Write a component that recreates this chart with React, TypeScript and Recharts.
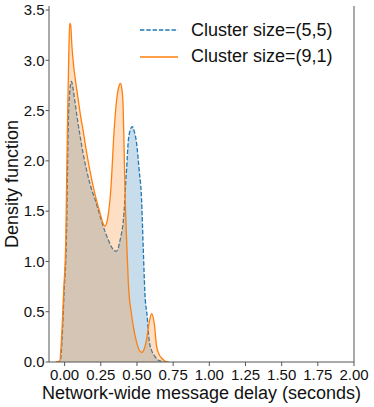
import * as React from 'react';
import { ComposedChart, Area, XAxis, YAxis, Legend, ReferenceLine } from 'recharts';

// KDE curves (x in seconds, y density)
const evenX = [-0.06, -0.034, -0.022, -0.006, 0.008, 0.019, 0.028, 0.035, 0.042, 0.05, 0.062, 0.075, 0.09, 0.11, 0.127, 0.15, 0.174, 0.2, 0.22, 0.245, 0.265, 0.278, 0.29, 0.3, 0.319, 0.342, 0.359, 0.375, 0.386, 0.395, 0.404, 0.41, 0.416, 0.43, 0.44, 0.446, 0.46, 0.474, 0.497, 0.515, 0.532, 0.55, 0.566, 0.584, 0.601, 0.619, 0.636, 0.655, 0.67, 0.693, 0.72];
const evenY = [0, 0.01, 0.22, 0.72, 1.21, 2.31, 3.0, 3.37, 3.35, 3.15, 2.95, 2.8, 2.65, 2.45, 2.31, 2.1, 1.91, 1.73, 1.61, 1.48, 1.38, 1.35, 1.38, 1.45, 1.71, 2.3, 2.6, 2.74, 2.77, 2.72, 2.55, 2.2, 1.78, 1.15, 0.8, 0.66, 0.5, 0.36, 0.2, 0.12, 0.095, 0.13, 0.22, 0.39, 0.48, 0.39, 0.155, 0.07, 0.04, 0.01, 0];

const splitX = [-0.06, -0.03, -0.018, -0.003, 0.012, 0.02, 0.026, 0.035, 0.047, 0.058, 0.07, 0.089, 0.11, 0.135, 0.162, 0.19, 0.21, 0.231, 0.26, 0.3, 0.33, 0.354, 0.37, 0.38, 0.393, 0.404, 0.416, 0.423, 0.428, 0.439, 0.45, 0.467, 0.48, 0.497, 0.515, 0.532, 0.543, 0.555, 0.571, 0.584, 0.6, 0.624, 0.645, 0.67, 0.7];
const splitY = [0, 0.01, 0.22, 0.72, 1.21, 1.9, 2.41, 2.68, 2.79, 2.72, 2.6, 2.41, 2.22, 2.02, 1.845, 1.7, 1.62, 1.52, 1.38, 1.22, 1.13, 1.1, 1.13, 1.19, 1.28, 1.38, 1.61, 1.81, 1.91, 2.18, 2.29, 2.34, 2.3, 2.18, 1.91, 1.61, 1.15, 0.68, 0.45, 0.22, 0.12, 0.056, 0.02, 0.006, 0];

const xTicks = [0, 0.25, 0.5, 0.75, 1, 1.25, 1.5, 1.75, 2];
const yTicks = [0, 0.5, 1, 1.5, 2, 2.5, 3, 3.5];

const seriesNames = ['Cluster size=(5,5)', 'Cluster size=(9,1)'];
const seriesColors = ['#1f77b4', '#ff7f0e'];

const font = '"Liberation Sans", Arial, sans-serif';
const axisColor = '#555';

const toRows = (xs: number[], ys: number[]) => xs.map((x, i) => ({ x, y: ys[i] }));

export default function App() {
    const splitData = toRows(splitX, splitY);
    const evenData = toRows(evenX, evenY);

    const renderLegend = () => (
        <div style={{ fontFamily: font, fontSize: 18, color: '#111' }}>
            {seriesNames.map((name, i) => (
                <div key={name} style={{ display: 'flex', alignItems: 'center', height: 26.7 }}>
                    <svg width={38} height={4} style={{ display: 'block' }}>
                        <line x1={0} y1={2} x2={38} y2={2} stroke={seriesColors[i]} strokeWidth={1.3}
                            strokeDasharray={i === 0 ? '4.4 1.9' : undefined} />
                    </svg>
                    <span style={{ marginLeft: 13, whiteSpace: 'nowrap' }}>{name}</span>
                </div>
            ))}
        </div>
    );

    return (
        <div style={{ position: 'absolute', left: 0, top: 0 }}>
            <ComposedChart width={374} height={407} margin={{ top: 6, right: 20, bottom: 0, left: 0 }}>
                <XAxis dataKey="x" type="number" domain={[-0.108, 2]} ticks={xTicks} allowDataOverflow
                    tickFormatter={(v: number) => v.toFixed(2)} height={45} tickSize={4} tickMargin={3}
                    stroke={axisColor} fontSize={15} fontFamily={font}
                    tick={{ fill: '#111', fontSize: 15, fontFamily: font }}
                    label={{ value: 'Network-wide message delay (seconds)', position: 'insideBottom', offset: 8, fill: '#111', fontSize: 18, fontFamily: font }} />
                <YAxis type="number" domain={[0, 3.54]} ticks={yTicks} allowDataOverflow width={49}
                    tickFormatter={(v: number) => v.toFixed(1)} tickSize={3.5} tickMargin={1}
                    stroke={axisColor} fontSize={15} fontFamily={font}
                    tick={{ fill: '#111', fontSize: 15, fontFamily: font }}
                    label={{ value: 'Density function', angle: -90, position: 'insideLeft', offset: 12, fill: '#111', fontSize: 18, fontFamily: font, style: { textAnchor: 'middle' } }} />
                <ReferenceLine x={2} stroke={axisColor} />
                <Area data={splitData} dataKey="y" name={seriesNames[0]} type="monotone" stroke={seriesColors[0]}
                    strokeWidth={1.3} strokeDasharray="4.4 1.9" fill={seriesColors[0]} fillOpacity={0.25}
                    dot={false} activeDot={false} isAnimationActive={false} />
                <Area data={evenData} dataKey="y" name={seriesNames[1]} type="monotone" stroke={seriesColors[1]}
                    strokeWidth={1.3} fill={seriesColors[1]} fillOpacity={0.25}
                    dot={false} activeDot={false} isAnimationActive={false} />
                <Legend content={renderLegend} layout="vertical" align="center" verticalAlign="middle"
                    wrapperStyle={{ top: 16.7, left: 140, width: 230 }} />
            </ComposedChart>
        </div>
    );
}
